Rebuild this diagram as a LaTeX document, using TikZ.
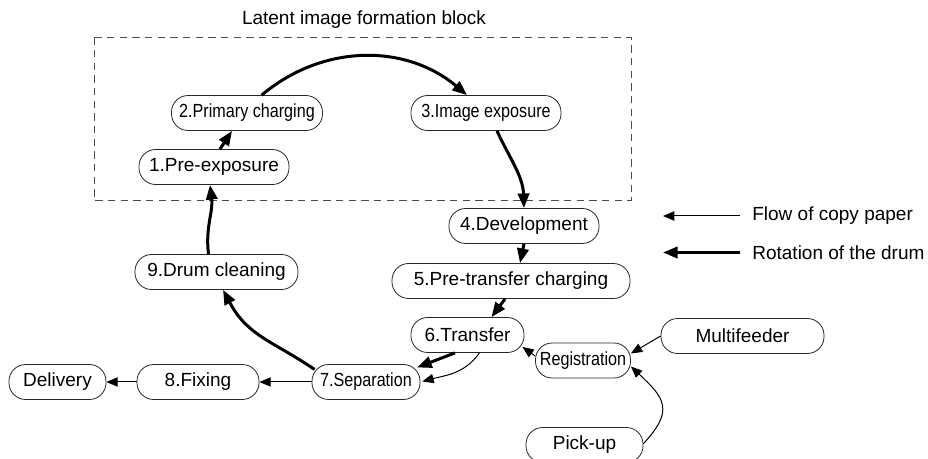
\documentclass[tikz,border=0pt]{standalone}
\usepackage{fontspec}
\setmainfont{Liberation Sans}
\usepackage{graphicx}
\usetikzlibrary{arrows.meta,positioning}

\newcommand{\squeeze}[1]{\scalebox{0.85}[1]{#1}}

\begin{document}
\begin{tikzpicture}[x=0.75pt,y=0.75pt,
	box/.style={draw=black!85, line width=0.6pt, rounded corners=12.5pt, minimum height=26.25pt, inner sep=0pt, font=\fontsize{14.25}{17}\selectfont},
	drum/.style={line width=2.25pt, -{Triangle[length=11pt,width=8.5pt]}},
	paper/.style={line width=0.75pt, -{Triangle[length=8.5pt,width=7pt]}},
	lbl/.style={inner sep=0pt, font=\fontsize{14.25}{17}\selectfont}]
	\useasboundingbox (0,0) rectangle (928,-459);
	
	\node[lbl] (blocktitle) at (364,-20) {Latent image formation block};
	\draw[gray!60!black, line width=0.75pt, dash pattern=on 5.5pt off 4pt] (94,-37.5) rectangle (631,-201);
	
	\node[box, minimum width=112.5pt] (pre) at (214,-167) {1.Pre-exposure};
	\node[box, minimum width=113.25pt] (prim) at (247,-113) {\squeeze{2.Primary charging}};
	\node[box, minimum width=112.5pt] (expo) at (486,-113) {\squeeze{3.Image exposure}};
	\node[box, minimum width=112.5pt] (dev) at (524,-226) {4.Development};
	\node[box, minimum width=178.5pt] (ptc) at (511,-281) {5.Pre-transfer charging};
	\node[box, minimum width=84.75pt] (trans) at (467.5,-335) {6.Transfer};
	\node[box, minimum width=81pt] (sep) at (366,-382) {\squeeze{7.Separation}};
	\node[box, minimum width=91.5pt] (fix) at (198,-382) {8.Fixing};
	\node[box, minimum width=72.75pt] (deliv) at (57.5,-382) {Delivery};
	\node[box, minimum width=122.25pt] (clean) at (216.5,-272) {9.Drum cleaning};
	\node[box, minimum width=71.25pt] (reg) at (583,-360.5) {\squeeze{Registration}};
	\node[box, minimum width=122.25pt] (multi) at (742.5,-336) {Multifeeder};
	\node[box, minimum width=87.75pt] (pick) at (584.5,-445) {Pick-up};
	
	\draw[drum] ([xshift=4.5pt]pre.north) -- ([xshift=-11.25pt]prim.south);
	\draw[drum] ([xshift=11pt]prim.north) to[out=40,in=140] ([xshift=-14.25pt]expo.north);
	\draw[drum] ([xshift=8.25pt]expo.south) to[out=-65,in=92] (dev.north);
	\draw[drum] (dev.south) -- ([xshift=6.75pt]ptc.north);
	\draw[drum] ([xshift=-4.5pt]ptc.south) -- ([xshift=18pt]trans.north);
	\draw[drum] ([xshift=-9.4pt]trans.south) -- ([xshift=-2.5pt,yshift=-2.5pt]sep.north east);
	\draw[drum] ([xshift=2.25pt,yshift=-4pt]sep.north west) to[out=146,in=-62,looseness=1.1] ([xshift=4.9pt]clean.south);
	\draw[drum] ([xshift=-6pt]clean.north) to[out=97,in=-83] ([xshift=-3pt]pre.south);
	
	\draw[paper, shorten >=1.5pt] ([xshift=8.9pt]trans.south) to[out=-125,in=15] (sep.east);
	\draw[paper] (sep.west) -- (fix.east);
	\draw[paper] (fix.west) -- (deliv.east);
	\draw[paper] ([yshift=3.4pt]reg.west) -- ([xshift=-1.5pt,yshift=4.5pt]trans.south east);
	\draw[paper] (multi.west) -- ([yshift=5.25pt]reg.east);
	\draw[paper] ([yshift=1pt]pick.east) to[out=47,in=-43,looseness=1.5] ([yshift=-4.5pt]reg.east);
	
	\coordinate (flowtip) at (663,-216);
	\coordinate[right=58pt of flowtip] (flowtail);
	\node[lbl, right=8.8pt of flowtail] (flowtxt) {Flow of copy paper};
	\draw[paper] (flowtail) -- (flowtip);
	
	\coordinate (rottip) at (663,-252.5);
	\coordinate[right=58pt of rottip] (rottail);
	\node[lbl, right=8.8pt of rottail] (rottxt) {Rotation of the drum};
	\draw[drum] (rottail) -- (rottip);
\end{tikzpicture}
\end{document}
